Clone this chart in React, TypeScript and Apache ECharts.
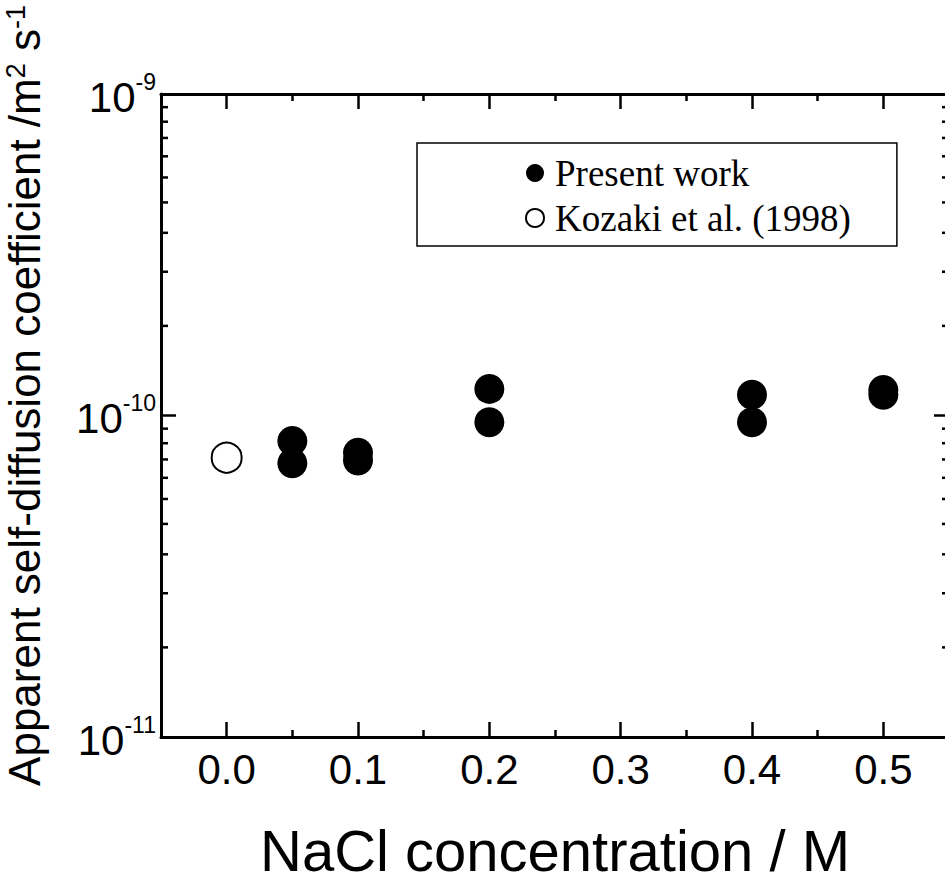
import React, { useEffect, useRef } from "react";
import * as echarts from "echarts";

// ---- data ----
const presentX = [0.05, 0.05, 0.1, 0.1, 0.2, 0.2, 0.4, 0.4, 0.5, 0.5];
const presentY = [8.33e-11, 7.1e-11, 7.66e-11, 7.24e-11, 1.21e-10, 9.53e-11, 1.16e-10, 9.53e-11, 1.2e-10, 1.16e-10];
const kozakiX = [0.0];
const kozakiY = [7.39e-11];

const xMajorTicks = [0, 0.1, 0.2, 0.3, 0.4, 0.5];
const xMinorTicks = [0.05, 0.15, 0.25, 0.35, 0.45];
const yMinorTicks = [
  1.9e-11, 2.8e-11, 3.7e-11, 4.6e-11, 5.5e-11, 6.4e-11, 7.3e-11, 8.2e-11, 9.1e-11,
  1.9e-10, 2.8e-10, 3.7e-10, 4.6e-10, 5.5e-10, 6.4e-10, 7.3e-10, 8.2e-10, 9.1e-10,
];
const seriesNames = ["Present work", "Kozaki et al. (1998)"];

const SANS = "'Liberation Sans', Arial, sans-serif";
const SERIF = "'Liberation Serif', 'Times New Roman', serif";
const X_MIN = -0.05;
const X_MAX = 0.55;
const Y_MIN = 1e-11;
const Y_MAX = 1e-9;

export default function App() {
  const ref = useRef<HTMLDivElement>(null);
  useEffect(() => {
    if (!ref.current) return;
    const chart = echarts.init(ref.current, null, { renderer: "svg" });
    const black = "#000";
    const lineStyle = { color: black, width: 3 };
    const tickStyle = { color: black, width: 2.5 };

    const xBase = (position: string, ticks: number[], len: number, showLine: boolean) => ({
      type: "value",
      position,
      min: X_MIN,
      max: X_MAX,
      axisLine: { show: showLine, onZero: false, lineStyle },
      axisTick: { show: true, inside: true, length: len, customValues: ticks, lineStyle: tickStyle },
      axisLabel: { show: false },
      splitLine: { show: false },
    });

    const option: any = {
      animation: false,
      backgroundColor: "#fff",
      grid: { left: 161, top: 94, width: 788, height: 643, containLabel: false, outerBoundsMode: "none" },
      legend: {
        orient: "vertical",
        left: 417,
        top: 143,
        data: seriesNames.map((n) => ({ name: n, icon: "circle" })),
        itemWidth: 30,
        itemHeight: 18,
        itemGap: 5,
        padding: [10, 46, 8, 108],
        borderColor: black,
        borderWidth: 1.5,
        backgroundColor: "#fff",
        textStyle: { fontFamily: SERIF, fontSize: 37, color: black, lineHeight: 40 },
      },
      xAxis: [
        {
          ...xBase("bottom", xMajorTicks, 15, true),
          axisLabel: {
            show: true,
            customValues: xMajorTicks,
            formatter: (v: number) => v.toFixed(1),
            fontFamily: SANS,
            fontSize: 42,
            color: black,
            margin: 11,
          },
          name: "NaCl concentration / M",
          nameLocation: "middle",
          nameGap: 84,
          nameTextStyle: { fontFamily: SANS, fontSize: 58, color: black },
        },
        xBase("bottom", xMinorTicks, 7, false),
        xBase("top", xMajorTicks, 15, true),
        xBase("top", xMinorTicks, 7, false),
      ],
      yAxis: [
        {
          type: "log",
          logBase: 10,
          position: "left",
          min: Y_MIN,
          max: Y_MAX,
          axisLine: { show: true, onZero: false, lineStyle },
          axisTick: { show: true, inside: true, length: 15, lineStyle: tickStyle },
          axisLabel: {
            show: true,
            margin: 5,
            formatter: (v: number) => `{b|10}{s|${Math.round(Math.log10(v))}}`,
            rich: {
              b: { fontFamily: SANS, fontSize: 42, color: black, lineHeight: 48, verticalAlign: "bottom" },
              s: { fontFamily: SANS, fontSize: 23, color: black, lineHeight: 22, verticalAlign: "top" },
            },
          },
          splitLine: { show: false },
          minorTick: { show: false },
          name: "{t|Apparent self-diffusion coefficient /m}{s|2}{t| s}{s|-1}",
          nameLocation: "middle",
          nameGap: 115,
          nameTextStyle: {
            padding: [0, 0, 0, 40],
            rich: {
              t: { fontFamily: SANS, fontSize: 44, color: black, lineHeight: 44, verticalAlign: "bottom" },
              s: { fontFamily: SANS, fontSize: 27, color: black, lineHeight: 27, verticalAlign: "top" },
            },
          },
        },
        {
          type: "log",
          logBase: 10,
          position: "right",
          min: Y_MIN,
          max: Y_MAX,
          axisLine: { show: true, onZero: false, lineStyle },
          axisTick: { show: true, inside: true, length: 15, lineStyle: tickStyle },
          axisLabel: { show: false },
          splitLine: { show: false },
        },
      ],
      series: [
        {
          name: seriesNames[0],
          type: "scatter",
          xAxisIndex: 0,
          yAxisIndex: 0,
          symbol: "circle",
          symbolSize: 30,
          itemStyle: { color: black, opacity: 1 },
          data: presentX.map((x, i) => [x, presentY[i]]),
          z: 10,
        },
        {
          name: seriesNames[1],
          type: "scatter",
          xAxisIndex: 0,
          yAxisIndex: 0,
          symbol: "circle",
          symbolSize: 30,
          itemStyle: { color: "#fff", borderColor: black, borderWidth: 2, opacity: 1 },
          data: kozakiX.map((x, i) => [x, kozakiY[i]]),
          z: 10,
        },
        {
          name: "yMinorTicks",
          type: "custom",
          xAxisIndex: 0,
          yAxisIndex: 0,
          silent: true,
          clip: false,
          data: yMinorTicks.map((v) => [0, v]),
          encode: { x: 0, y: 1 },
          renderItem: (params: any, api: any) => {
            const y = api.coord([0, api.value(1)])[1];
            const cs = params.coordSys;
            return {
              type: "group",
              children: [
                {
                  type: "line",
                  shape: { x1: cs.x, y1: y, x2: cs.x + 7, y2: y },
                  style: { stroke: black, lineWidth: 2.5 },
                },
                {
                  type: "line",
                  shape: { x1: cs.x + cs.width, y1: y, x2: cs.x + cs.width - 7, y2: y },
                  style: { stroke: black, lineWidth: 2.5 },
                },
              ],
            };
          },
        },
      ],
    };
    chart.setOption(option);
    return () => chart.dispose();
  }, []);
  return (
    <div
      ref={ref}
      style={{ position: "absolute", left: 0, top: 0, width: 945, height: 882, background: "#fff" }}
    />
  );
}
